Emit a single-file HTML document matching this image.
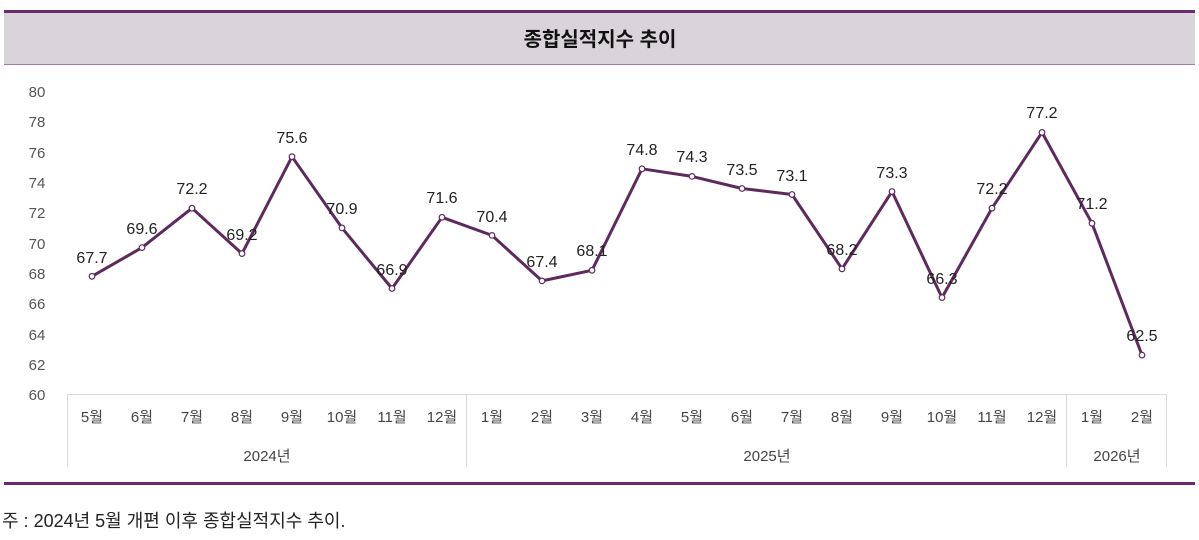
<!DOCTYPE html>
<html><head><meta charset="utf-8"><style>
body{margin:0;background:#fff;width:1199px;height:535px;overflow:hidden;font-family:"Liberation Sans","Noto Sans CJK KR",sans-serif}
</style></head><body>
<svg width="1199" height="535" xmlns="http://www.w3.org/2000/svg" font-family="Liberation Sans, Noto Sans CJK KR, sans-serif">
<rect x="4" y="12" width="1191" height="52" fill="#d9d4d9"/>
<rect x="4" y="10" width="1191" height="3" fill="#6b2a6b"/>
<rect x="4" y="64" width="1191" height="1" fill="#a77ba7"/>
<text x="600" y="46" text-anchor="middle" font-size="20" font-weight="bold" fill="#111">종합실적지수 추이</text>
<g font-size="15" fill="#555" text-anchor="middle">
<text x="37" y="97">80</text><text x="37" y="127">78</text><text x="37" y="158">76</text><text x="37" y="188">74</text><text x="37" y="218">72</text><text x="37" y="249">70</text><text x="37" y="279">68</text><text x="37" y="309">66</text><text x="37" y="340">64</text><text x="37" y="370">62</text><text x="37" y="400">60</text>
</g>
<g stroke="#d9d9d9" stroke-width="1" fill="none">
<line x1="67" y1="394.5" x2="1167" y2="394.5"/>
<line x1="67.5" y1="394" x2="67.5" y2="467"/>
<line x1="466.5" y1="394" x2="466.5" y2="467"/>
<line x1="1066.5" y1="394" x2="1066.5" y2="467"/>
<line x1="1166.5" y1="394" x2="1166.5" y2="467"/>
</g>
<g font-size="15" fill="#444" text-anchor="middle">
<text x="92" y="422">5월</text><text x="142" y="422">6월</text><text x="192" y="422">7월</text><text x="242" y="422">8월</text><text x="292" y="422">9월</text><text x="342" y="422">10월</text><text x="392" y="422">11월</text><text x="442" y="422">12월</text>
<text x="492" y="422">1월</text><text x="542" y="422">2월</text><text x="592" y="422">3월</text><text x="642" y="422">4월</text><text x="692" y="422">5월</text><text x="742" y="422">6월</text><text x="792" y="422">7월</text><text x="842" y="422">8월</text><text x="892" y="422">9월</text><text x="942" y="422">10월</text><text x="992" y="422">11월</text><text x="1042" y="422">12월</text>
<text x="1092" y="422">1월</text><text x="1142" y="422">2월</text>
<text x="267" y="461">2024년</text><text x="767" y="461">2025년</text><text x="1117" y="461">2026년</text>
</g>
<polyline fill="none" stroke="#5e2a5e" stroke-width="3" stroke-linejoin="round" points="92,276.3 142,247.6 192,208.2 242,253.6 292,156.7 342,227.9 392,288.5 442,217.3 492,235.4 542,280.9 592,270.3 642,168.8 692,176.4 742,188.5 792,194.5 842,268.8 892,191.5 942,297.6 992,208.2 1042,132.4 1092,223.3 1142,355.1"/>
<g fill="#fff" stroke="#5e2a5e" stroke-width="1.2">
<circle cx="92" cy="276.3" r="2.8"/><circle cx="142" cy="247.6" r="2.8"/><circle cx="192" cy="208.2" r="2.8"/><circle cx="242" cy="253.6" r="2.8"/><circle cx="292" cy="156.7" r="2.8"/><circle cx="342" cy="227.9" r="2.8"/><circle cx="392" cy="288.5" r="2.8"/><circle cx="442" cy="217.3" r="2.8"/><circle cx="492" cy="235.4" r="2.8"/><circle cx="542" cy="280.9" r="2.8"/><circle cx="592" cy="270.3" r="2.8"/><circle cx="642" cy="168.8" r="2.8"/><circle cx="692" cy="176.4" r="2.8"/><circle cx="742" cy="188.5" r="2.8"/><circle cx="792" cy="194.5" r="2.8"/><circle cx="842" cy="268.8" r="2.8"/><circle cx="892" cy="191.5" r="2.8"/><circle cx="942" cy="297.6" r="2.8"/><circle cx="992" cy="208.2" r="2.8"/><circle cx="1042" cy="132.4" r="2.8"/><circle cx="1092" cy="223.3" r="2.8"/><circle cx="1142" cy="355.1" r="2.8"/>
</g>
<g font-size="16" fill="#222" text-anchor="middle">
<text x="92" y="263">67.7</text><text x="142" y="234">69.6</text><text x="192" y="194">72.2</text><text x="242" y="240">69.2</text><text x="292" y="143">75.6</text><text x="342" y="214">70.9</text><text x="392" y="275">66.9</text><text x="442" y="203">71.6</text><text x="492" y="222">70.4</text><text x="542" y="267">67.4</text><text x="592" y="256">68.1</text><text x="642" y="155">74.8</text><text x="692" y="162">74.3</text><text x="742" y="175">73.5</text><text x="792" y="181">73.1</text><text x="842" y="255">68.2</text><text x="892" y="178">73.3</text><text x="942" y="284">66.3</text><text x="992" y="194">72.2</text><text x="1042" y="118">77.2</text><text x="1092" y="209">71.2</text><text x="1142" y="341">62.5</text>
</g>
<rect x="4" y="482" width="1191" height="3" fill="#6b2a6b"/>
<text x="2" y="527" font-size="18" fill="#222">주 : 2024년 5월 개편 이후 종합실적지수 추이.</text>
</svg>
</body></html>
